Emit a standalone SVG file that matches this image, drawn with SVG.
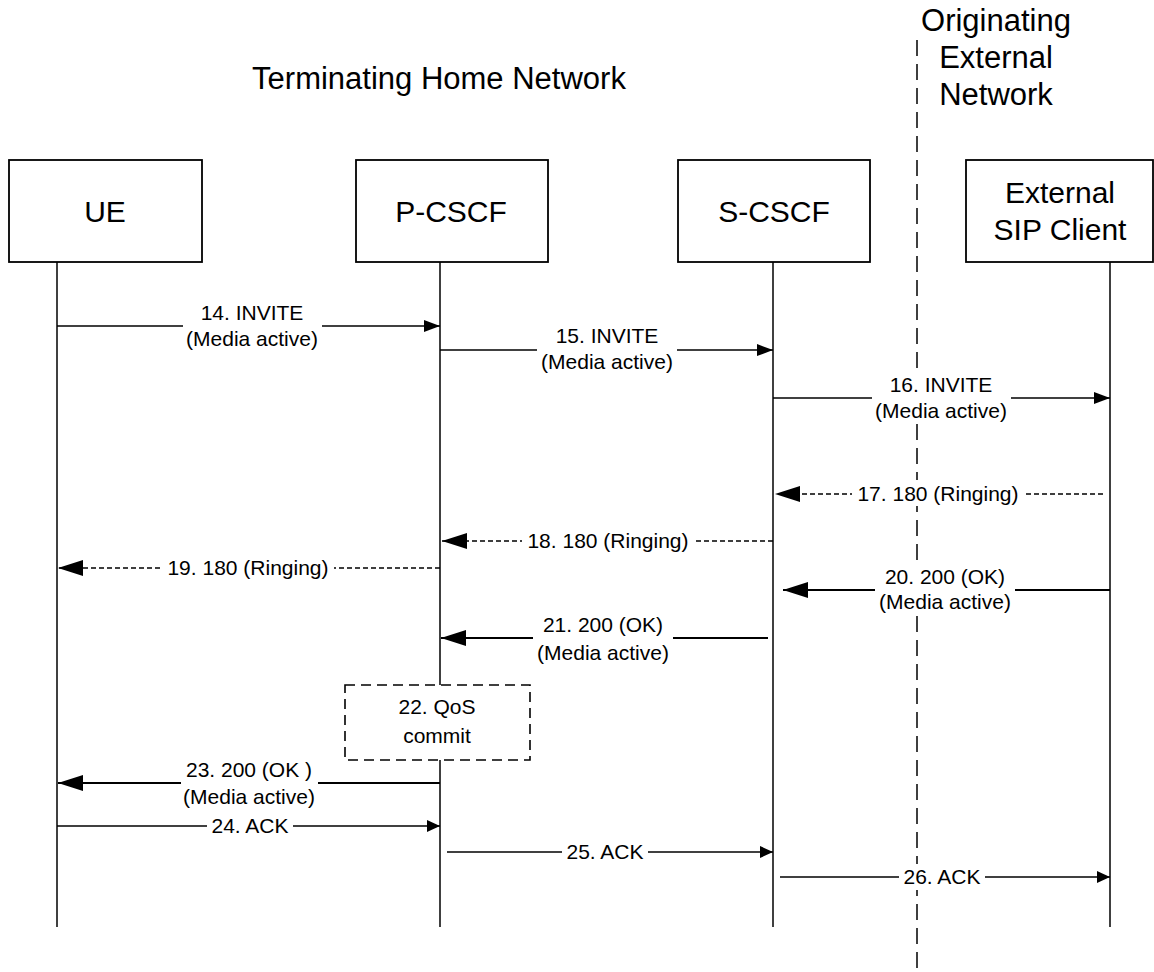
<svg xmlns="http://www.w3.org/2000/svg" width="1154" height="972" viewBox="0 0 1154 972">
<style>
text{font-family:"Liberation Sans",Arial,sans-serif;fill:#000}
.box{fill:#fff;stroke:#000;stroke-width:1.8}
.bt{font-size:30px;text-anchor:middle}
.hd{font-size:31px;text-anchor:middle}
.lb{font-size:21px;text-anchor:middle}
.life{stroke:#000;stroke-width:1.5;fill:none}
.msg{stroke:#000;stroke-width:1.3;fill:none}
.msgb{stroke:#000;stroke-width:2;fill:none}
.dsh{stroke:#000;stroke-width:1.5;fill:none;stroke-dasharray:5,3}
.bg{fill:#fff}
</style>
<defs>
<marker id="aT" markerUnits="userSpaceOnUse" markerWidth="16" markerHeight="12" refX="16" refY="6" orient="auto"><path d="M0,0 L16,6 L0,12 z" fill="#000"/></marker>
<marker id="aB" markerUnits="userSpaceOnUse" markerWidth="25" markerHeight="16" refX="25" refY="8" orient="auto"><path d="M0,0 L25,8 L0,16 z" fill="#000"/></marker>
<marker id="aA" markerUnits="userSpaceOnUse" markerWidth="13" markerHeight="12" refX="13" refY="6" orient="auto"><path d="M0,0 L13,6 L0,12 z" fill="#000"/></marker>
</defs>
<rect width="1154" height="972" fill="#fff"/>

<g id="headings">
<text class="hd" x="439" y="89">Terminating Home Network</text>
<text class="hd" x="996" y="31">Originating</text>
<text class="hd" x="996" y="68">External</text>
<text class="hd" x="996" y="105">Network</text>
<line x1="917" y1="40" x2="917" y2="972" stroke="#000" stroke-width="1.5" stroke-dasharray="16,8"/>
</g>

<g id="lifelines">
<line class="life" x1="57" y1="262" x2="57" y2="927"/>
<line class="life" x1="440" y1="262" x2="440" y2="927"/>
<line class="life" x1="773" y1="262" x2="773" y2="927"/>
<line class="life" x1="1110" y1="262" x2="1110" y2="927"/>
</g>

<g id="node-ue">
<rect class="box" x="9" y="160" width="193" height="102"/>
<text class="bt" x="105" y="222">UE</text>
</g>
<g id="node-pcscf">
<rect class="box" x="356" y="160" width="192" height="102"/>
<text class="bt" x="451" y="222">P-CSCF</text>
</g>
<g id="node-scscf">
<rect class="box" x="678" y="160" width="192" height="102"/>
<text class="bt" x="774" y="222">S-CSCF</text>
</g>
<g id="node-ext">
<rect class="box" x="966" y="160" width="187" height="102"/>
<text class="bt" x="1060" y="203">External</text>
<text class="bt" x="1060" y="240">SIP Client</text>
</g>

<g id="node-qos">
<rect x="345" y="685" width="185" height="75" fill="#fff" stroke="#000" stroke-width="1.6" stroke-dasharray="10,6"/>
<text class="lb" x="437" y="714">22. QoS</text>
<text class="lb" x="437" y="743">commit</text>
</g>

<g id="connectors">
<line class="msg" x1="57" y1="326" x2="440" y2="326" marker-end="url(#aT)"/>
<rect class="bg" x="183" y="303" width="139" height="48"/>
<text class="lb" x="252" y="320">14. INVITE</text>
<text class="lb" x="252" y="346">(Media active)</text>

<line class="msg" x1="440" y1="350" x2="773" y2="350" marker-end="url(#aT)"/>
<rect class="bg" x="537" y="327" width="140" height="48"/>
<text class="lb" x="607" y="343">15. INVITE</text>
<text class="lb" x="607" y="369">(Media active)</text>

<line class="msg" x1="773" y1="398" x2="1110" y2="398" marker-end="url(#aT)"/>
<rect class="bg" x="872" y="375" width="139" height="48"/>
<text class="lb" x="941" y="392">16. INVITE</text>
<text class="lb" x="941" y="418">(Media active)</text>

<line class="dsh" x1="1103" y1="494" x2="775" y2="494" marker-end="url(#aB)"/>
<rect class="bg" x="852" y="480" width="172" height="26"/>
<text class="lb" x="938" y="501">17. 180 (Ringing)</text>

<line class="dsh" x1="773" y1="541" x2="442" y2="541" marker-end="url(#aB)"/>
<rect class="bg" x="522" y="527" width="172" height="26"/>
<text class="lb" x="608" y="548">18. 180 (Ringing)</text>

<line class="dsh" x1="440" y1="568" x2="58" y2="568" marker-end="url(#aB)"/>
<rect class="bg" x="162" y="554" width="172" height="26"/>
<text class="lb" x="248" y="575">19. 180 (Ringing)</text>

<line class="msgb" x1="1110" y1="590" x2="783" y2="590" marker-end="url(#aB)"/>
<rect class="bg" x="875" y="566" width="140" height="48"/>
<text class="lb" x="945" y="584">20. 200 (OK)</text>
<text class="lb" x="945" y="609">(Media active)</text>

<line class="msgb" x1="768" y1="638" x2="441" y2="638" marker-end="url(#aB)"/>
<rect class="bg" x="533" y="614" width="140" height="50"/>
<text class="lb" x="603" y="632">21. 200 (OK)</text>
<text class="lb" x="603" y="660">(Media active)</text>

<line class="msgb" x1="440" y1="783" x2="58" y2="783" marker-end="url(#aB)"/>
<rect class="bg" x="181" y="759" width="137" height="50"/>
<text class="lb" x="249" y="777">23. 200 (OK )</text>
<text class="lb" x="249" y="804">(Media active)</text>

<line class="msg" x1="57" y1="826" x2="440" y2="826" marker-end="url(#aA)"/>
<rect class="bg" x="207" y="813" width="86" height="26"/>
<text class="lb" x="250" y="833">24. ACK</text>

<line class="msg" x1="447" y1="852" x2="773" y2="852" marker-end="url(#aA)"/>
<rect class="bg" x="562" y="839" width="86" height="26"/>
<text class="lb" x="605" y="859">25. ACK</text>

<line class="msg" x1="780" y1="877" x2="1110" y2="877" marker-end="url(#aA)"/>
<rect class="bg" x="899" y="864" width="86" height="26"/>
<text class="lb" x="942" y="884">26. ACK</text>
</g>
</svg>
